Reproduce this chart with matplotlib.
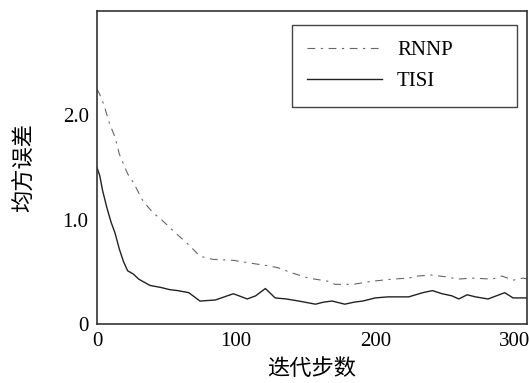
import matplotlib.pyplot as plt
import numpy as np

plt.rcParams['font.family'] = ['Liberation Serif', 'Noto Sans CJK SC']

# iteration steps and mean squared error
rnnp_x = [0, 2, 5, 9, 13, 16, 22, 26, 33, 40, 48, 55, 65, 74, 83, 98, 112,
          122, 130, 140, 152, 166, 171, 184, 198, 212, 224, 231, 240, 252,
          259, 270, 284, 291, 299, 306, 310]
rnnp_y = [2.25, 2.2, 2.1, 1.92, 1.79, 1.63, 1.44, 1.36, 1.18, 1.07, 0.98,
          0.89, 0.77, 0.65, 0.62, 0.61, 0.58, 0.56, 0.54, 0.49, 0.44, 0.41,
          0.38, 0.38, 0.41, 0.43, 0.44, 0.46, 0.47, 0.45, 0.43, 0.44, 0.43,
          0.46, 0.42, 0.44, 0.43]

tisi_x = [0, 2, 4, 7, 10, 13, 16, 19, 22, 26, 30, 38, 46, 52, 58, 66, 74,
          85, 98, 108, 114, 119, 121, 128, 136, 145, 157, 163, 169, 178,
          185, 191, 200, 209, 224, 234, 241, 248, 255, 260, 266, 272, 281,
          287, 293, 299, 305, 310]
tisi_y = [1.5, 1.42, 1.28, 1.12, 0.98, 0.87, 0.72, 0.6, 0.51, 0.48, 0.43,
          0.37, 0.35, 0.33, 0.32, 0.3, 0.22, 0.23, 0.29, 0.24, 0.27, 0.32,
          0.34, 0.25, 0.24, 0.22, 0.19, 0.21, 0.22, 0.19, 0.21, 0.22, 0.25,
          0.26, 0.26, 0.3, 0.32, 0.29, 0.27, 0.24, 0.28, 0.26, 0.24, 0.27,
          0.3, 0.25, 0.25, 0.25]

x_ticks = [0, 100, 200, 300]
y_ticks = [0, 1.0, 2.0]
y_tick_labels = ['0', '1.0', '2.0']

fig = plt.figure(figsize=(5.29, 3.83), dpi=100)
ax = fig.add_axes([97 / 529, 1 - 324 / 383, 430 / 529, 313 / 383])

ax.plot(rnnp_x, rnnp_y, color='#666666', lw=0.8,
        linestyle=(0, (7, 5, 2, 5)), label='RNNP')
ax.plot(tisi_x, tisi_y, color='#222222', lw=1.0, label='TISI')

ax.set_xlim(0, 309)
ax.set_ylim(0, 3.0)
ax.set_xticks(x_ticks)
ax.set_yticks(y_ticks)
ax.set_yticklabels(y_tick_labels)
ax.tick_params(length=0, labelsize=15, pad=6)
for s in ax.spines.values():
    s.set_linewidth(1.2)
    s.set_color('#333333')

ax.set_xlabel('迭代步数', fontsize=16, family=['Noto Sans CJK SC'], labelpad=4)
ax.set_ylabel('均方误差', fontsize=16, family=['Noto Sans CJK SC'], labelpad=19)

leg = ax.legend(loc='upper left', bbox_to_anchor=(0.453, 0.703, 0.524, 0.252),
                mode='expand', fontsize=15, handlelength=3.6,
                handletextpad=0.7, fancybox=False, framealpha=1,
                borderpad=0.75, borderaxespad=0, labelspacing=0.55)
leg.get_frame().set_edgecolor('#444444')
leg.get_frame().set_linewidth(1.0)

fig.savefig('out.png', dpi=100)
